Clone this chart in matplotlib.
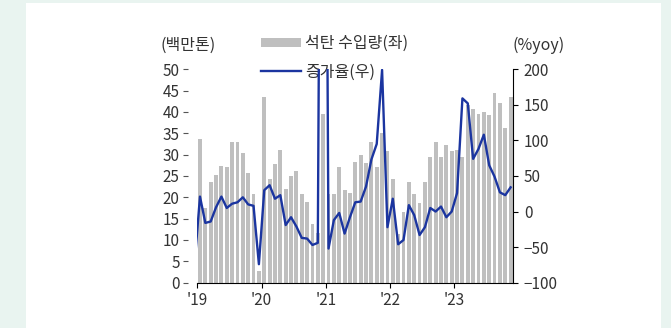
import numpy as np
import matplotlib.pyplot as plt
from matplotlib.patches import Rectangle, Patch
from matplotlib.lines import Line2D

plt.rcParams['font.family'] = ['Noto Sans CJK KR', 'DejaVu Sans']

# monthly coal imports (million tons), Jan 2019 - Nov 2023
imports = [33.6, 17.6, 23.6, 25.2, 27.3, 27.1, 33.0, 33.0, 30.3, 25.8, 20.7, 2.8,
           43.4, 24.3, 27.8, 31.1, 22.0, 25.0, 26.2, 20.8, 18.9, 13.7, 11.7, 39.4,
           20.8, 20.8, 27.2, 21.7, 21.1, 28.3, 29.9, 28.1, 33.0, 27.2, 35.1, 30.9,
           24.4, 11.5, 16.5, 23.5, 20.7, 18.7, 23.5, 29.5, 33.0, 29.4, 32.2, 30.9,
           31.0, 29.5, 41.5, 40.6, 39.5, 39.9, 39.3, 44.4, 42.1, 36.2, 43.4]

# yoy growth (%), Dec 2018 - Nov 2023
growth = [-73,
          21, -16, -14, 6, 21, 5, 11, 13, 20, 10, 8, -74,
          30, 37, 18, 23, -19, -8, -21, -37, -38, -47, -44, 1300,
          -52, -12, -2, -31, -8, 13, 14, 35, 73, 95, 199, -22,
          18, -46, -40, 9, -5, -33, -22, 5, 0, 7, -8, 0,
          26, 159, 152, 74, 88, 108, 65, 49, 27, 23, 34]

year_labels = ["'19", "'20", "'21", "'22", "'23"]

x_bar = np.arange(len(imports))
x_line = np.arange(-1, len(growth) - 1)

fig = plt.figure(figsize=(6.71, 3.28), dpi=100, facecolor='#E9F4F0')
fig.patches.append(Rectangle((25.5 / 671, 0), (661 - 25.5) / 671, 1 - 2.6 / 328,
                             transform=fig.transFigure, facecolor='white',
                             edgecolor='none', zorder=-5))

ax = fig.add_axes([197.3 / 671, 1 - 282.7 / 328, (513.3 - 197.3) / 671, (282.7 - 69.2) / 328])
ax.set_facecolor('none')
ax.bar(x_bar, imports, width=0.72, color='#BFBFBF', zorder=2)
ax.set_xlim(-0.5, len(imports) - 0.5)
ax.set_ylim(0, 50)
ax.set_yticks(np.arange(0, 51, 5))

ax2 = ax.twinx()
ax2.plot(x_line, growth, color='#1B35A0', lw=1.7)
ax2.set_ylim(-100, 200)
ax2.set_yticks(np.arange(-100, 201, 50))

ax.set_xticks(np.arange(-0.5, len(imports), 12))
ax.set_xticklabels(year_labels)

txt = '#333333'
for s in ['top', 'right']:
    ax.spines[s].set_visible(False)
    ax2.spines[s if s == 'top' else 'left'].set_visible(False)
ax.spines['left'].set_visible(False)
ax.spines['left'].set_position(('outward', 6.5))
ax2.spines['bottom'].set_visible(False)
ax2.spines['right'].set_color('black')
ax.spines['bottom'].set_color('black')

ax.tick_params(axis='y', length=3.6, width=0.8, pad=2.5, labelsize=11, colors=txt)
ax.tick_params(axis='x', length=3.6, width=0.8, pad=3, labelsize=11, colors=txt)
ax.tick_params(axis='x', color='black')
ax2.tick_params(axis='y', length=3.6, width=0.8, pad=4, labelsize=11, colors=txt)
ax2.tick_params(axis='y', color='black')
ax.tick_params(axis='y', color='#555555')

fig.text(160 / 671, 1 - 45 / 328, '(백만톤)', fontsize=11.5, color=txt, va='center', ha='left')
fig.text(539 / 671, 1 - 45 / 328, '(%yoy)', fontsize=11.5, color=txt, va='center', ha='center')

handles = [Patch(facecolor='#BFBFBF', edgecolor='none'),
           Line2D([], [], color='#1B35A0', lw=1.7)]
ax.legend(handles, ['석탄 수입량(좌)', '증가율(우)'], loc='upper left',
          bbox_to_anchor=(261 / 671, 1 - 35 / 328), bbox_transform=fig.transFigure,
          frameon=False, fontsize=11.5, handlelength=2.5, handleheight=0.5,
          handletextpad=0.25, labelspacing=0.72, borderpad=0, borderaxespad=0,
          labelcolor=txt)

fig.savefig('out.png', dpi=100, facecolor=fig.get_facecolor())
